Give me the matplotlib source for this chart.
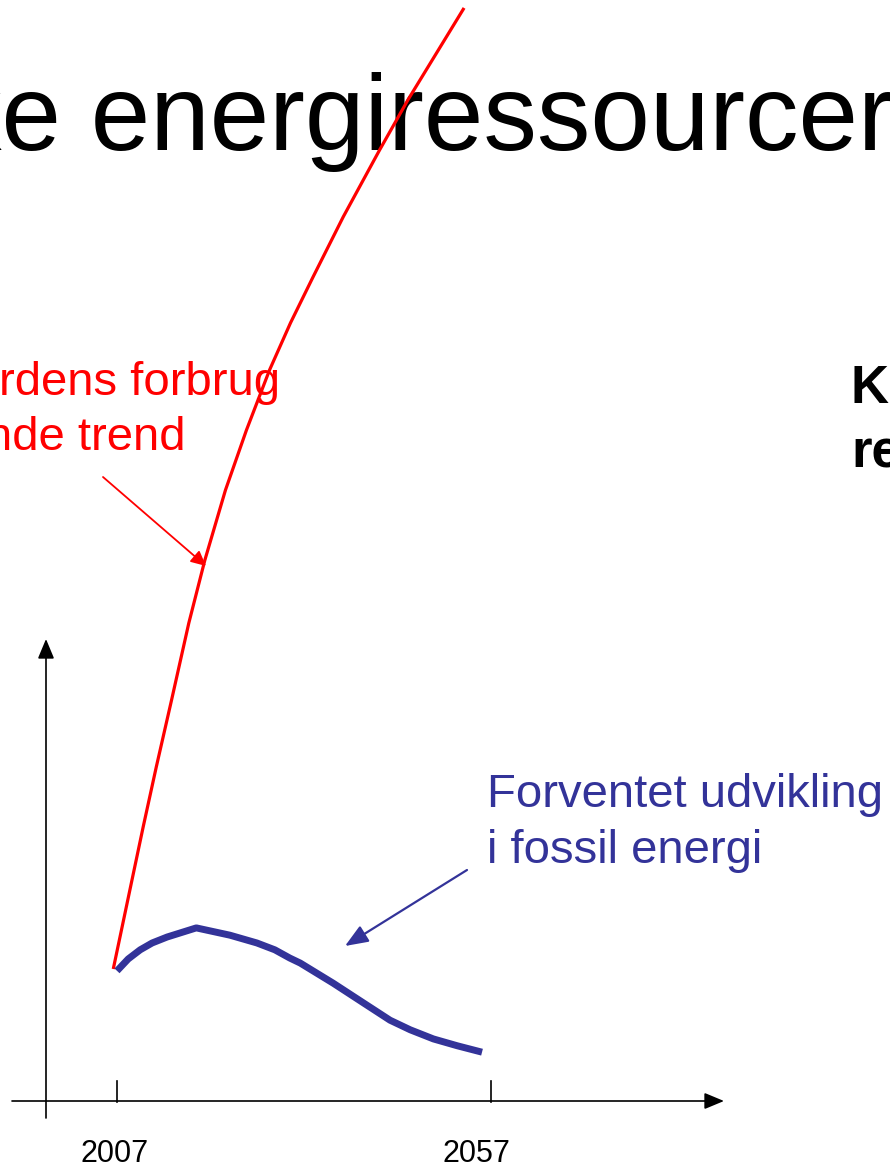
import matplotlib
matplotlib.use("Agg")
import matplotlib.pyplot as plt

plt.rcParams['font.family'] = ['Liberation Sans', 'DejaVu Sans']

# years on the time axis
tick_years = [2007, 2057]
tick_labels = ['2007', '2057']

# red: consumption if the trend continues
trend_years = [2006.5, 2008.8, 2010.5, 2012.25, 2014.3, 2016.6, 2018.75, 2021.5,
               2024.3, 2027.4, 2030.2, 2033.2, 2037.25, 2042.1, 2045.9, 2053.4]
trend_vals = [29.1, 47.0, 60.2, 73.3, 88.0, 104.8, 118.6, 133.9, 147.0, 160.2,
              170.5, 180.5, 193.7, 208.3, 219.3, 239.4]

# blue: expected development in fossil energy
fossil_years = [2007.0, 2008.5, 2010.1, 2011.7, 2013.7, 2017.6, 2022.1, 2025.7,
                2028.1, 2030.1, 2031.5, 2035.9, 2040.4, 2043.5, 2046.2, 2049.3,
                2052.5, 2055.8]
fossil_vals = [28.7, 31.3, 33.3, 34.8, 36.1, 38.1, 36.5, 34.8, 33.3, 31.5, 30.4,
               26.0, 21.2, 17.9, 15.8, 13.8, 12.3, 10.9]

RED = '#ff0000'
BLUE = '#333399'

W, H = 890, 1165
fig = plt.figure(figsize=(W / 100, H / 100), dpi=100)

# layout layer in pixel coordinates (texts, arrows, axis lines)
lay = fig.add_axes([0, 0, 1, 1])
lay.set_xlim(0, W)
lay.set_ylim(H, 0)
lay.axis('off')

# data layer: 2007 sits at x=117 px, 7.48 px per year; value 0 at y=1102 px, 4.57 px per unit
ax = fig.add_axes([0, 0, 1, 1])
ax.patch.set_alpha(0)
ax.axis('off')
px_year, px_val = 7.48, 4.57
ax.set_xlim(2007 - 117 / px_year, 2007 + (W - 117) / px_year)
ax.set_ylim(-(H - 1102) / px_val, 1102 / px_val)

# title (cut off at both edges on the slide)
lay.text(-52, 150, 'ke energiressourcer', fontsize=77, color='black',
         ha='left', va='baseline', zorder=1)

# axes with arrow heads
lay.annotate('', xy=(724, 1101), xytext=(12, 1101),
             arrowprops=dict(arrowstyle='-|>,head_length=0.6,head_width=0.25',
                             mutation_scale=20, lw=1.2, color='black',
                             shrinkA=0, shrinkB=0))
lay.annotate('', xy=(46, 639), xytext=(46, 1118),
             arrowprops=dict(arrowstyle='-|>,head_length=0.6,head_width=0.25',
                             mutation_scale=20, lw=1.2, color='black',
                             shrinkA=0, shrinkB=0))

# tick marks and labels from the year list
for yr in tick_years:
    ax.plot([yr, yr], [0, 4.6], color='black', lw=1.2)
for yr, lab, dx in zip(tick_years, tick_labels, [-0.3, -2.0]):
    ax.text(yr + dx, -(1162 - 1102) / px_val, lab, fontsize=22, ha='center',
            va='baseline', color='black')

# curves
ax.plot(trend_years, trend_vals, color=RED, lw=2.3, solid_capstyle='butt',
        solid_joinstyle='round', zorder=5)
ax.plot(fossil_years, fossil_vals, color=BLUE, lw=5, solid_capstyle='butt',
        solid_joinstyle='round', zorder=5)

# red label and arrow
lay.text(280, 395, 'rdens forbrug', fontsize=34, color=RED, ha='right', va='baseline')
lay.text(185, 450, 'nde trend', fontsize=34, color=RED, ha='right', va='baseline')
lay.annotate('', xy=(206, 566), xytext=(103, 477),
             arrowprops=dict(arrowstyle='-|>,head_length=0.45,head_width=0.22',
                             mutation_scale=20, lw=1.3, color=RED,
                             shrinkA=0, shrinkB=0))

# blue label and arrow
lay.text(487, 807, 'Forventet udvikling', fontsize=34, color=BLUE, ha='left', va='baseline')
lay.text(487, 863, 'i fossil energi', fontsize=34, color=BLUE, ha='left', va='baseline')
lay.annotate('', xy=(345, 946), xytext=(467, 870),
             arrowprops=dict(arrowstyle='-|>,head_length=0.7,head_width=0.28',
                             mutation_scale=20, lw=1.6, color=BLUE,
                             shrinkA=0, shrinkB=0))

# bold text cut at the right edge
lay.text(851, 403, 'K', fontsize=38, fontweight='bold', color='black', ha='left', va='baseline')
lay.text(851, 467, 're', fontsize=38, fontweight='bold', color='black', ha='left', va='baseline')

fig.savefig('out.png', dpi=100)
